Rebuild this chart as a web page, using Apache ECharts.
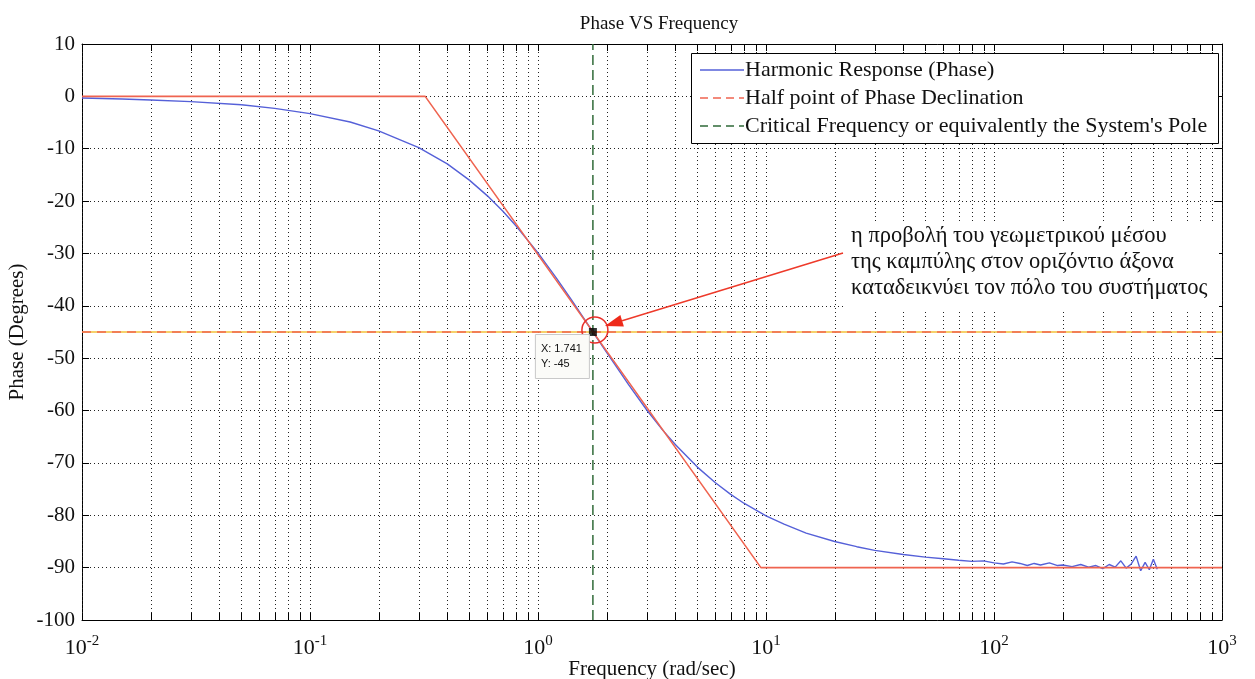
<!DOCTYPE html>
<html>
<head>
<meta charset="utf-8">
<script src="https://cdn.jsdelivr.net/npm/echarts@6/dist/echarts.min.js"></script>
<style>
  html, body { margin: 0; padding: 0; background: #fff; }
  #chart { width: 1255px; height: 679px; }
</style>
</head>
<body>
<div id="chart"></div>
<script>
// Harmonic response of a first-order system: phase (degrees) against frequency (rad/sec)
const freq = [0.01, 0.015, 0.02, 0.03, 0.05, 0.07, 0.1, 0.15, 0.2, 0.3, 0.4, 0.5, 0.6, 0.7, 0.8,
  1.0, 1.2, 1.4, 1.741, 2.0, 2.5, 3.0, 3.5, 4.0, 5.0, 6.0, 7.0, 8.0, 10, 12, 15, 20, 25, 30, 40, 50,
  60, 70, 80, 90, 100, 110, 120, 130, 140, 150, 160, 175, 190, 200, 220, 240, 260, 280, 300, 320,
  340, 360, 380, 400, 420, 440, 460, 480, 500, 520];
const phase = [-0.3, -0.5, -0.7, -1.0, -1.6, -2.3, -3.3, -4.9, -6.6, -9.8, -12.9, -16.0, -19.0, -21.9, -24.7,
  -29.9, -34.6, -38.8, -45.0, -48.9, -55.1, -59.9, -63.6, -66.5, -70.8, -73.8, -76.0, -77.7, -80.1, -81.7, -83.4, -85.0, -86.0, -86.7, -87.5, -88.0,
  -88.3, -88.6, -88.8, -88.7, -89.1, -89.3, -88.9, -89.2, -89.6, -89.2, -89.5, -89.1, -89.6, -89.5, -89.8, -89.4, -89.9, -89.6, -90.2, -89.4,
  -89.9, -88.7, -90.1, -89.3, -87.8, -90.6, -89.0, -90.4, -88.4, -90.3];

// Straight-line (asymptotic) approximation of the phase
const asymFreq = [0.01, 0.32, 9.5, 1000];
const asymPhase = [0, 0, -90, -90];

// Half point of the phase declination and the pole frequency
const halfPhase = -45;
const poleFreq = 1.741;
const tipLabels = ['X: 1.741', 'Y: -45'];

// Axis ranges and ticks
const decades = [0.01, 0.1, 1, 10, 100, 1000];
const minorSteps = [2, 3, 4, 5, 6, 7, 8, 9];
const phaseMin = -100, phaseMax = 10, phaseStep = 10;

const legendNames = ['Harmonic Response (Phase)', 'Half point of Phase Declination',
  "Critical Frequency or equivalently the System's Pole"];
const noteLines = ['η προβολή του γεωμετρικού μέσου', 'της καμπύλης στον οριζόντιο άξονα',
  'καταδεικνύει τον πόλο του συστήματος'];

const gridFreqs = [];
decades.forEach(function (d, i) {
  gridFreqs.push(d);
  if (i < decades.length - 1) minorSteps.forEach(function (m) { gridFreqs.push(+(d * m).toPrecision(3)); });
});

const SERIF = 'Liberation Serif, Times New Roman, serif';
const C_BLUE = '#5560d8', C_RED = '#ef6450', C_YEL = '#f2c23a', C_GREEN = '#2f6a38';

const chart = echarts.init(document.getElementById('chart'), null, { renderer: 'canvas' });

const xCommon = { type: 'log', logBase: 10, min: 0.01, max: 1000 };
const yCommon = { type: 'value', min: phaseMin, max: phaseMax, interval: phaseStep };

const option = {
  animation: false,
  backgroundColor: '#fff',
  title: {
    text: 'Phase VS Frequency', left: 654, top: 10, textAlign: 'center',
    textStyle: { fontFamily: SERIF, fontSize: 19, fontWeight: 'normal', color: '#111' }
  },
  grid: { left: 82, right: 33, top: 44, bottom: 59, containLabel: false, outerBoundsMode: 'none' },
  xAxis: [
    Object.assign({}, xCommon, {
      position: 'bottom',
      name: 'Frequency (rad/sec)', nameLocation: 'middle', nameGap: 39, nameMoveOverlap: false,
      nameTextStyle: { fontFamily: SERIF, fontSize: 21, color: '#111' },
      axisLine: { onZero: false, lineStyle: { color: '#000', width: 1 } },
      axisTick: { show: false },
      splitLine: { show: false },
      axisLabel: {
        margin: 14, color: '#111',
        formatter: function (v) {
          const e = Math.round(Math.log10(v));
          return '{b|10}{e|' + e + '}';
        },
        rich: {
          b: { fontFamily: SERIF, fontSize: 22, color: '#111' },
          e: { fontFamily: SERIF, fontSize: 15, color: '#111', padding: [0, 0, 14, 0] }
        }
      }
    }),
    Object.assign({}, xCommon, {
      position: 'top',
      axisLine: { onZero: false, lineStyle: { color: '#000', width: 1 } },
      axisTick: { show: false }, axisLabel: { show: false }, splitLine: { show: false }
    })
  ],
  yAxis: [
    Object.assign({}, yCommon, {
      position: 'left',
      name: 'Phase (Degrees)', nameLocation: 'middle', nameGap: 54, nameRotate: 90, nameMoveOverlap: false,
      nameTextStyle: { fontFamily: SERIF, fontSize: 21, color: '#111' },
      axisLine: { show: true, onZero: false, lineStyle: { color: '#000', width: 1 } },
      axisTick: { show: true, inside: true, length: 7, lineStyle: { color: '#000' } },
      axisLabel: { fontFamily: SERIF, fontSize: 21, color: '#111', margin: 7 },
      splitLine: { show: true, lineStyle: { color: '#222', width: 1, type: [1, 3] } }
    }),
    Object.assign({}, yCommon, {
      position: 'right',
      axisLine: { show: true, onZero: false, lineStyle: { color: '#000', width: 1 } },
      axisTick: { show: true, inside: true, length: 7, lineStyle: { color: '#000' } },
      axisLabel: { show: false }, splitLine: { show: false }
    })
  ],
  series: [
    {
      // dotted vertical grid at every decade and its 2..9 sub-divisions, with inner ticks
      type: 'custom', xAxisIndex: 0, yAxisIndex: 0, silent: true, z: 1,
      data: gridFreqs.map(function (f) { return [f, 0]; }),
      encode: { x: 0, y: 1 },
      renderItem: function (params, api) {
        const x = Math.round(api.coord([api.value(0), 0])[0]) + 0.5;
        const cs = params.coordSys;
        return {
          type: 'group', children: [
            { type: 'line', shape: { x1: x, y1: cs.y, x2: x, y2: cs.y + cs.height },
              style: { stroke: '#222', lineWidth: 1, lineDash: [1, 3] } },
            { type: 'line', shape: { x1: x, y1: cs.y + cs.height, x2: x, y2: cs.y + cs.height - 7 },
              style: { stroke: '#000', lineWidth: 1 } },
            { type: 'line', shape: { x1: x, y1: cs.y, x2: x, y2: cs.y + 7 },
              style: { stroke: '#000', lineWidth: 1 } }
          ]
        };
      }
    },
    {
      name: 'halfUnder', type: 'line', silent: true, symbol: 'none', z: 3,
      data: [[0.01, halfPhase], [1000, halfPhase]],
      lineStyle: { color: C_YEL, width: 1.5 }
    },
    {
      name: legendNames[1], type: 'line', silent: true, symbol: 'none', z: 4,
      data: [[0.01, halfPhase], [1000, halfPhase]],
      lineStyle: { color: C_RED, width: 1.5, type: [9, 6] }
    },
    {
      name: legendNames[2], type: 'line', silent: true, symbol: 'none', z: 4,
      data: [[poleFreq, phaseMin], [poleFreq, phaseMax]],
      lineStyle: { color: C_GREEN, width: 1.5, type: [10, 5] }
    },
    {
      name: legendNames[0], type: 'line', silent: true, symbol: 'none', z: 5,
      data: freq.map(function (f, i) { return [f, phase[i]]; }),
      lineStyle: { color: C_BLUE, width: 1.4 }
    },
    {
      name: 'asymptote', type: 'line', silent: true, symbol: 'none', z: 6,
      data: asymFreq.map(function (f, i) { return [f, asymPhase[i]]; }),
      lineStyle: { color: C_RED, width: 1.6 }
    },
    {
      name: 'datatip', type: 'scatter', silent: true, z: 8,
      data: [[poleFreq, halfPhase]],
      symbol: 'rect', symbolSize: 8,
      itemStyle: { color: '#000' }
    }
  ]
};

chart.setOption(option);

// Legend, note, arrow, marker ring and data tip, placed around the plotted point
const p = chart.convertToPixel({ xAxisIndex: 0, yAxisIndex: 0 }, [poleFreq, halfPhase]);
const tip = [p[0] + 12, p[1] - 6];
const start = [843, 253];
const dx = tip[0] - start[0], dy = tip[1] - start[1];
const len = Math.sqrt(dx * dx + dy * dy);
const ux = dx / len, uy = dy / len;
const headL = 18, headW = 6;
const base = [tip[0] - ux * headL, tip[1] - uy * headL];

const legendRows = [70, 98, 126];
const legendSamples = [
  { color: C_BLUE, dash: null },
  { color: C_RED, dash: [8, 5] },
  { color: C_GREEN, dash: [8, 5] }
];

const graphics = [];
// legend box
graphics.push({ type: 'rect', z: 100, shape: { x: 691.5, y: 53.5, width: 527, height: 90 },
  style: { fill: '#fff', stroke: '#000', lineWidth: 1 } });
legendNames.forEach(function (name, i) {
  graphics.push({ type: 'line', z: 101, shape: { x1: 700, y1: legendRows[i], x2: 744, y2: legendRows[i] },
    style: { stroke: legendSamples[i].color, lineWidth: 1.3, lineDash: legendSamples[i].dash } });
  graphics.push({ type: 'text', z: 101, x: 745, y: legendRows[i],
    style: { text: name, font: '22px ' + SERIF, fill: '#111', textVerticalAlign: 'middle' } });
});
// note with white background
graphics.push({ type: 'rect', z: 100, shape: { x: 843, y: 224, width: 376, height: 85 },
  style: { fill: '#fff' } });
noteLines.forEach(function (line, i) {
  graphics.push({ type: 'text', z: 101, x: 851, y: 236 + i * 26,
    style: { text: line, font: '22.5px ' + SERIF, fill: '#111', textVerticalAlign: 'middle' } });
});
// arrow from note to the marked point
graphics.push({ type: 'line', z: 102, shape: { x1: start[0], y1: start[1], x2: base[0], y2: base[1] },
  style: { stroke: '#ee3a2a', lineWidth: 1.5 } });
graphics.push({ type: 'polygon', z: 102, shape: { points: [
  tip, [base[0] - uy * headW, base[1] + ux * headW], [base[0] + uy * headW, base[1] - ux * headW]] },
  style: { fill: '#ee2a1a' } });
// ring around the point
graphics.push({ type: 'circle', z: 102, shape: { cx: p[0] + 2, cy: p[1] - 2, r: 13 },
  style: { fill: null, stroke: '#e8302a', lineWidth: 1.5 } });
// data tip box
graphics.push({ type: 'rect', z: 102, shape: { x: p[0] - 57.5, y: p[1] + 2.5, width: 54, height: 44 },
  style: { fill: '#fbfbf8', stroke: '#c9c9c9', lineWidth: 1 } });
tipLabels.forEach(function (t, i) {
  graphics.push({ type: 'text', z: 103, x: p[0] - 52, y: p[1] + 17 + i * 15,
    style: { text: t, font: '11px Liberation Sans, Arial, sans-serif', fill: '#111', textVerticalAlign: 'middle' } });
});

chart.setOption({ graphic: graphics });
</script>
</body>
</html>
